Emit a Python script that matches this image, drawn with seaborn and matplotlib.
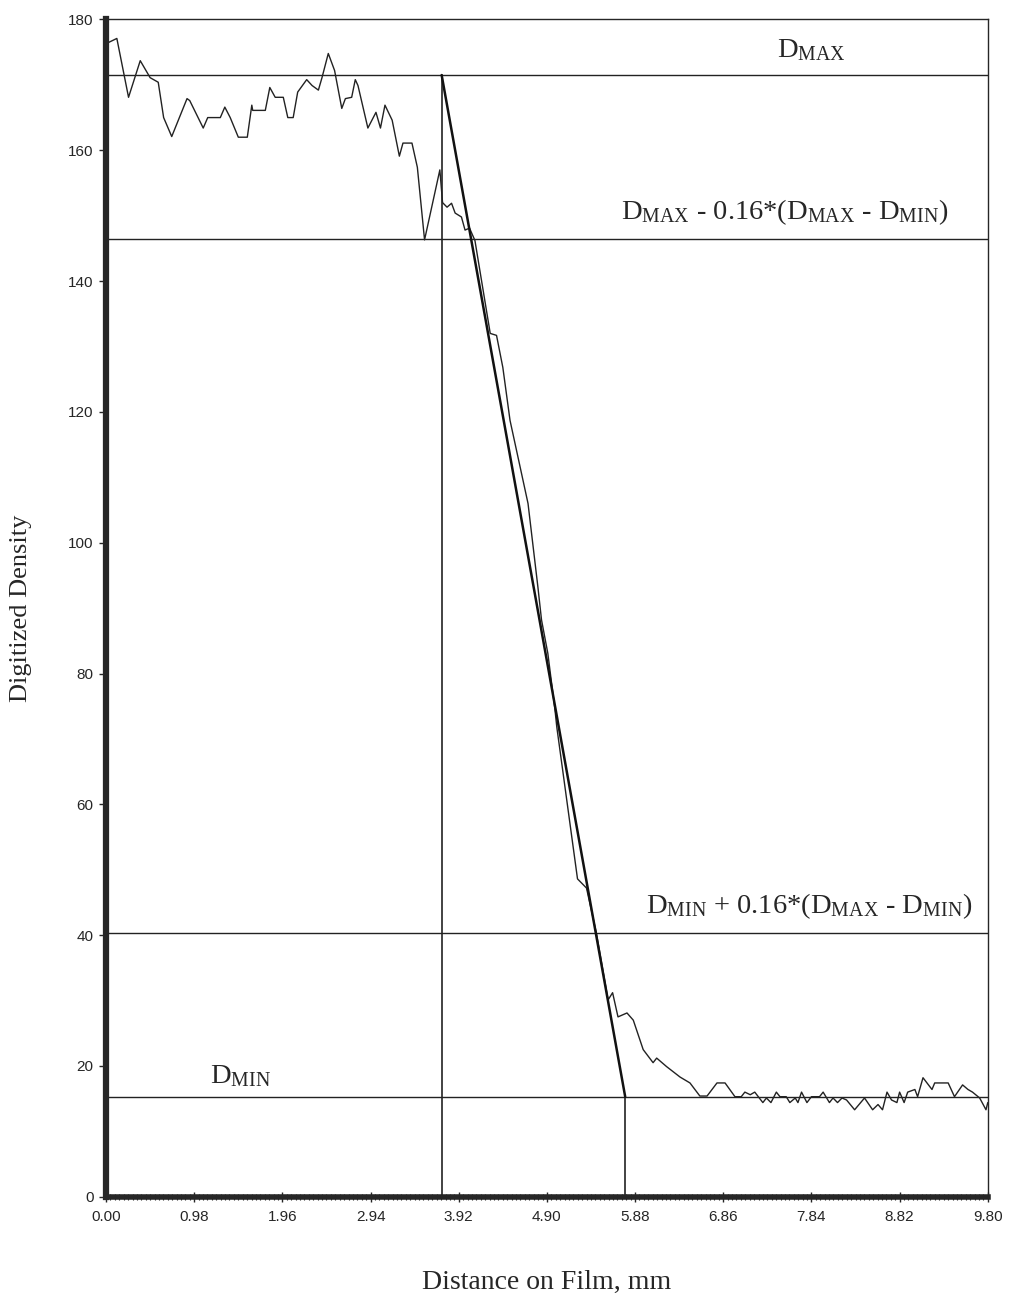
import numpy as np
import pandas as pd
import matplotlib
matplotlib.use("Agg")
import matplotlib.pyplot as plt
import seaborn as sns

distance_mm = [0.00, 0.12, 0.25, 0.38, 0.49, 0.58, 0.64, 0.73, 0.90, 0.93, 1.08, 1.13, 1.27, 1.32, 1.38,
               1.47, 1.57, 1.62, 1.63, 1.77, 1.82, 1.88, 1.97, 2.02, 2.08, 2.13, 2.23, 2.29, 2.36, 2.40,
               2.47, 2.54, 2.62, 2.66, 2.73, 2.77, 2.80, 2.91, 3.00, 3.05, 3.10, 3.18, 3.26, 3.30, 3.40,
               3.46, 3.54, 3.71, 3.74, 3.79, 3.84, 3.88, 3.95, 3.99, 4.04, 4.10, 4.27, 4.34, 4.41, 4.49,
               4.69, 4.80, 4.84, 4.91, 4.99, 5.01, 5.24, 5.34, 5.45, 5.58, 5.63, 5.69, 5.79, 5.86, 5.97,
               6.08, 6.12, 6.23, 6.38, 6.49, 6.60, 6.68, 6.79, 6.88, 6.99, 7.06, 7.10, 7.16, 7.21, 7.30,
               7.34, 7.39, 7.45, 7.49, 7.56, 7.60, 7.66, 7.69, 7.73, 7.79, 7.84, 7.93, 7.97, 8.04, 8.08,
               8.13, 8.18, 8.23, 8.32, 8.43, 8.52, 8.58, 8.63, 8.68, 8.73, 8.79, 8.82, 8.87, 8.91, 8.99,
               9.02, 9.08, 9.18, 9.21, 9.36, 9.43, 9.52, 9.58, 9.63, 9.71, 9.78, 9.80]
density = [176.3, 177.1, 168.1, 173.7, 171.1, 170.4, 165.0, 162.1, 167.9, 167.6, 163.4, 165.0, 165.0, 166.6, 165.0,
           162.0, 162.0, 166.9, 166.1, 166.1, 169.6, 168.1, 168.1, 165.0, 165.0, 168.9, 170.8, 169.9, 169.2, 171.1,
           174.8, 172.2, 166.4, 167.9, 168.1, 170.8, 169.9, 163.4, 165.8, 163.4, 166.9, 164.6, 159.1, 161.1, 161.1,
           157.4, 146.3, 157.0, 152.0, 151.3, 151.9, 150.4, 149.8, 147.8, 148.1, 146.2, 132.0, 131.7, 126.8, 118.7,
           106.0, 93.2, 88.2, 83.1, 74.4, 71.8, 48.6, 47.2, 40.3, 30.1, 31.2, 27.5, 28.1, 27.0, 22.5,
           20.5, 21.2, 19.9, 18.3, 17.4, 15.4, 15.4, 17.4, 17.4, 15.3, 15.3, 16.0, 15.6, 16.0, 14.4,
           15.1, 14.4, 16.0, 15.3, 15.3, 14.4, 15.1, 14.4, 16.0, 14.4, 15.3, 15.3, 16.0, 14.4, 15.1,
           14.4, 15.1, 14.8, 13.3, 15.1, 13.3, 14.1, 13.3, 16.0, 14.8, 14.4, 16.0, 14.4, 16.0, 16.4,
           15.3, 18.2, 16.4, 17.4, 17.4, 15.3, 17.1, 16.4, 16.0, 15.1, 13.3, 14.4]

d_max = 171.5
d_min = 15.3
x_dmax = 3.73
x_dmin = 5.77
x_ticks = [0.00, 0.98, 1.96, 2.94, 3.92, 4.90, 5.88, 6.86, 7.84, 8.82, 9.80]
y_ticks = [0, 20, 40, 60, 80, 100, 120, 140, 160, 180]

upper_level = d_max - 0.16 * (d_max - d_min)
lower_level = d_min + 0.16 * (d_max - d_min)

sns.set_style("ticks")
plt.rcParams["mathtext.fontset"] = "custom"
plt.rcParams["mathtext.rm"] = "Liberation Serif"
plt.rcParams["mathtext.it"] = "Liberation Serif"

fig = plt.figure(figsize=(10.1, 12.98), dpi=100)
ax = fig.add_axes([0.105, 0.078, 0.873, 0.907])

df = pd.DataFrame({"x": distance_mm, "y": density})
sns.lineplot(data=df, x="x", y="y", estimator=None, sort=False, color="#222222", linewidth=1.0, ax=ax)

# reference levels
for lvl in [d_max, upper_level, lower_level, d_min]:
    ax.axhline(lvl, color="#222222", linewidth=1.0, zorder=1)

# construction lines
ax.plot([x_dmax, x_dmax], [0, d_max], color="#222222", linewidth=1.2)
ax.plot([x_dmin, x_dmin], [0, d_min], color="#222222", linewidth=1.2)
ax.plot([x_dmax, x_dmin], [d_max, d_min], color="#111111", linewidth=1.8)

serif = "Liberation Serif"
fs = 20.5
ax.text(7.84, 175.3, r"D$_{\mathrm{MAX}}$", fontsize=fs, family=serif, ha="center", va="center")
ax.text(7.54, 150.5, r"D$_{\mathrm{MAX}}$ - 0.16*(D$_{\mathrm{MAX}}$ - D$_{\mathrm{MIN}}$)",
        fontsize=fs, family=serif, ha="center", va="center")
ax.text(7.82, 44.5, r"D$_{\mathrm{MIN}}$ + 0.16*(D$_{\mathrm{MAX}}$ - D$_{\mathrm{MIN}}$)",
        fontsize=fs, family=serif, ha="center", va="center")
ax.text(1.49, 18.5, r"D$_{\mathrm{MIN}}$", fontsize=fs, family=serif, ha="center", va="center")

ax.set_xlim(0, 9.8)
ax.set_ylim(0, 180)
ax.set_xticks(x_ticks)
ax.set_xticklabels([f"{t:.2f}" for t in x_ticks])
ax.set_yticks(y_ticks)
ax.set_xticks(np.arange(0, 9.8001, 0.049), minor=True)
ax.tick_params(axis="x", which="major", direction="inout", length=7, width=1, labelsize=11, pad=6)
ax.tick_params(axis="x", which="minor", direction="inout", length=4, width=0.8)
ax.tick_params(axis="y", which="major", direction="out", length=5, width=1, labelsize=11, pad=4)
for lab in ax.get_xticklabels() + ax.get_yticklabels():
    lab.set_family("Liberation Sans")

ax.spines["left"].set_linewidth(4.5)
ax.spines["bottom"].set_linewidth(4)
ax.spines["top"].set_linewidth(1)
ax.spines["right"].set_linewidth(1)

ax.set_xlabel("Distance on Film, mm", fontsize=20, family=serif, labelpad=33)
ax.set_ylabel("Digitized Density", fontsize=19, family=serif, labelpad=26)

fig.savefig("out.png", dpi=100)
